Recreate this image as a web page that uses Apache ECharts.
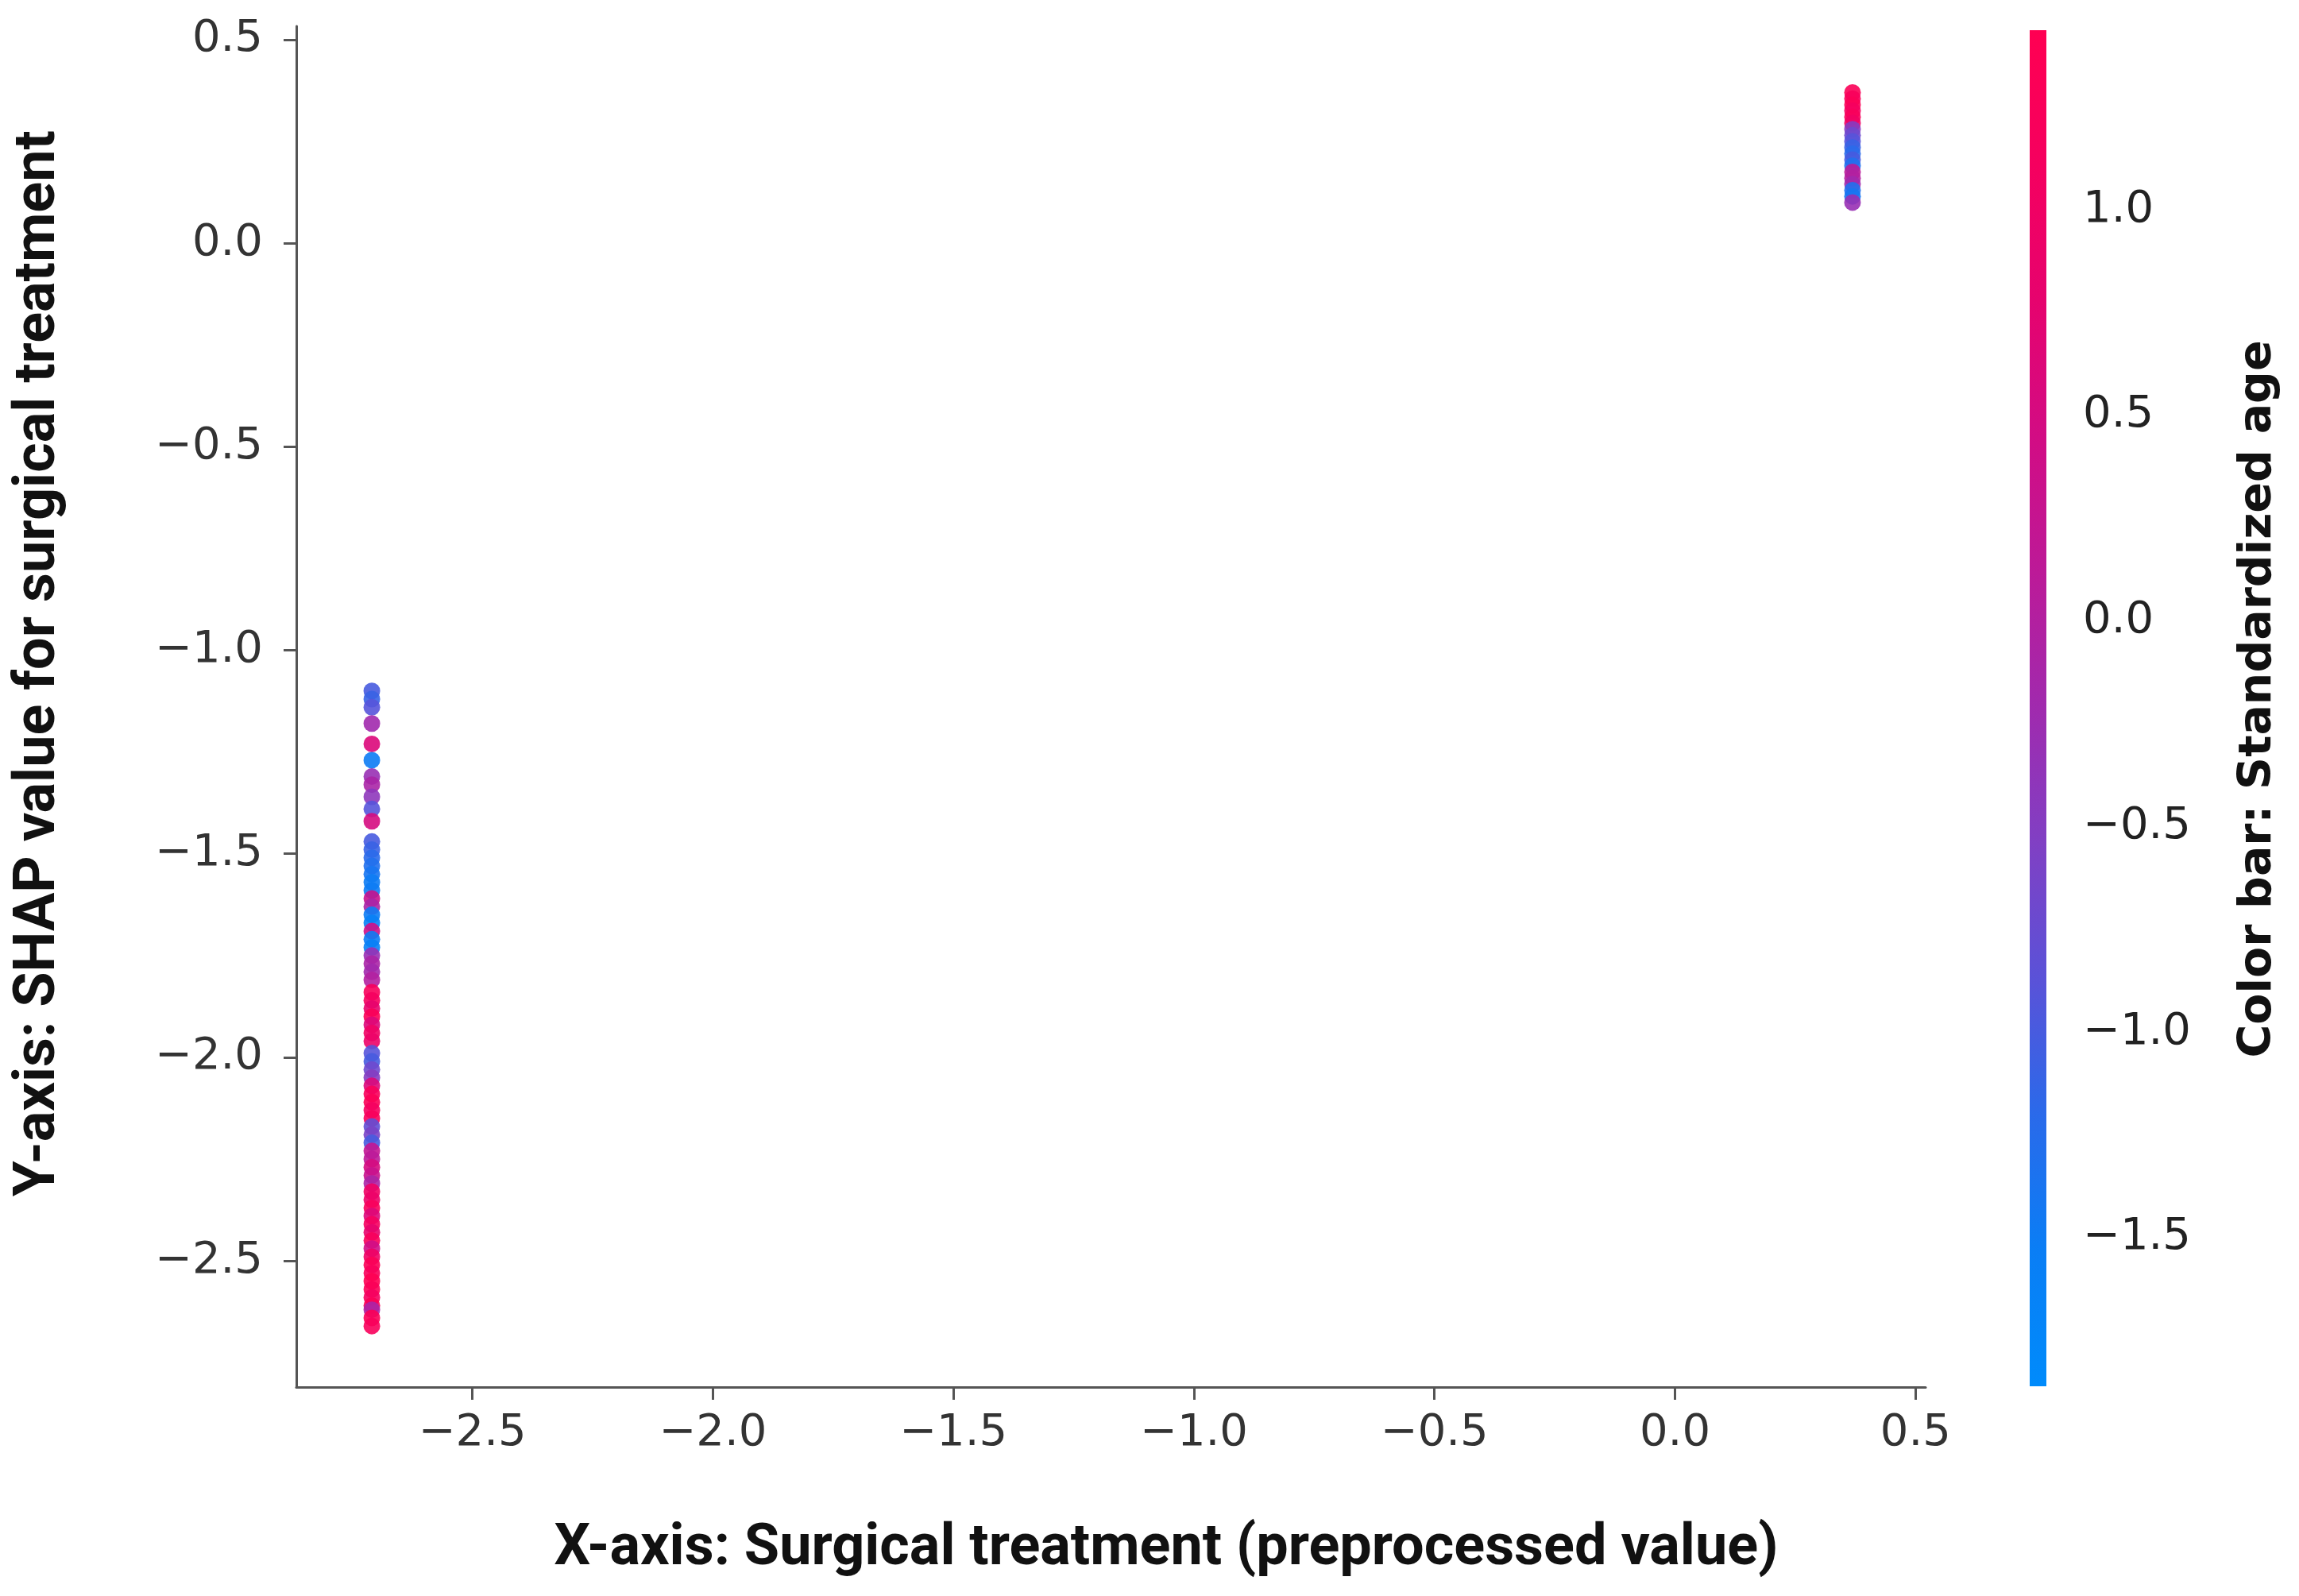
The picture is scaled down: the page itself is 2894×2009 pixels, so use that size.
<!DOCTYPE html>
<html>
<head>
<meta charset="utf-8">
<script src="https://cdn.jsdelivr.net/npm/echarts@6/dist/echarts.min.js"></script>
<style>
  html, body { margin: 0; padding: 0; background: #fff; }
  #main { width: 2894px; height: 2009px; }
</style>
</head>
<body>
<div id="main"></div>
<script>
// feature values (preprocessed surgical treatment)
const featureLow = -2.709;
const featureHigh = 0.369;

// SHAP values + standardized age at the low feature value
const lowShap = [-1.10, -1.12, -1.14, -1.18, -1.23, -1.27, -1.31, -1.33, -1.36, -1.39,
  -1.42, -1.47, -1.49, -1.51, -1.53, -1.55, -1.57, -1.59, -1.61, -1.63,
  -1.65, -1.67, -1.69, -1.71, -1.73, -1.75, -1.77, -1.79, -1.81, -1.84,
  -1.86, -1.88, -1.90, -1.92, -1.94, -1.96, -1.99, -2.01, -2.03, -2.05,
  -2.07, -2.09, -2.11, -2.13, -2.15, -2.17, -2.19, -2.21, -2.23, -2.25,
  -2.27, -2.29, -2.31, -2.33, -2.35, -2.37, -2.39, -2.41, -2.43, -2.45,
  -2.47, -2.49, -2.51, -2.53, -2.55, -2.57, -2.59, -2.61, -2.62, -2.64, -2.66];
const lowAge = [-1.0, -1.1, -0.9, -0.2, 0.6, -1.5, -0.3, -0.1, -0.4, -0.9,
  0.5, -1.0, -1.1, -1.2, -1.3, -1.4, -1.5, -1.5, 0.3, -0.1,
  -1.5, -1.6, 0.4, -1.5, -1.6, -0.3, -0.1, -0.2, 0.0, 1.2,
  1.1, 0.8, 1.3, 0.6, 1.0, 0.9, -0.9, -1.0, -0.7, -0.5,
  0.6, 1.2, 1.3, 1.1, 1.2, -0.8, -0.6, -1.0, 0.2, 0.1,
  0.5, 0.3, -0.1, 1.0, 0.9, 1.2, 0.6, 1.1, 0.8, 1.2,
  0.4, 1.0, 1.3, 1.2, 1.4, 1.3, 1.1, 1.3, -0.1, 1.3, 1.2];

// SHAP values + standardized age at the high feature value
const highShap = [0.37, 0.355, 0.34, 0.325, 0.31, 0.295, 0.28, 0.265, 0.25, 0.235,
  0.22, 0.205, 0.19, 0.175, 0.16, 0.145, 0.13, 0.115, 0.10];
const highAge = [1.3, 1.2, 1.3, 1.1, 1.2, 1.0, -0.5, -0.7, -0.9, -1.1,
  -1.2, -1.0, -1.3, 0.1, 0.0, -0.2, -1.3, -1.4, -0.3];

const xTicks = [-2.5, -2.0, -1.5, -1.0, -0.5, 0.0, 0.5];
const yTicks = [-2.5, -2.0, -1.5, -1.0, -0.5, 0.0, 0.5];
const cbTicks = [-1.5, -1.0, -0.5, 0.0, 0.5, 1.0];
const cbRange = [-1.862, 1.437];

// shap red_blue like colormap, blue -> red
const cmap = ['#008BFB', '#0A7EF5', '#2A6AEA', '#5A52D8', '#8040C4', '#A02AAE',
  '#BC1A98', '#D20C84', '#E6036E', '#F5005F', '#FF0052'];

const points = [];
lowShap.forEach((v, i) => points.push([featureLow, v, lowAge[i]]));
highShap.forEach((v, i) => points.push([featureHigh, v, highAge[i]]));

const fmt = v => v.toFixed(1).replace('-', '\u2212');
const tickFont = { color: '#333', fontSize: 56, fontFamily: 'DejaVu Sans' };

var chart = echarts.init(document.getElementById('main'));

var option = {
  backgroundColor: '#fff',
  animation: false,
  grid: [
    { left: 373, right: 470, top: 33, bottom: 263 },
    { left: 2555, width: 21, top: 38, bottom: 264 }
  ],
  xAxis: [
    {
      type: 'value', gridIndex: 0, min: -2.866, max: 0.521,
      axisLine: { onZero: false, lineStyle: { color: '#555', width: 3 } },
      axisTick: { length: 16, lineStyle: { color: '#555', width: 3 }, customValues: xTicks },
      axisLabel: Object.assign({ margin: 30, formatter: fmt, customValues: xTicks }, tickFont),
      splitLine: { show: false }
    },
    { type: 'value', gridIndex: 1, min: 0, max: 1, show: false }
  ],
  yAxis: [
    {
      type: 'value', gridIndex: 0, min: -2.81, max: 0.533,
      axisLine: { show: true, onZero: false, lineStyle: { color: '#555', width: 3 } },
      axisTick: { show: true, length: 16, lineStyle: { color: '#555', width: 3 }, customValues: yTicks },
      axisLabel: Object.assign({ margin: 42, formatter: fmt, customValues: yTicks }, tickFont),
      splitLine: { show: false }
    },
    {
      type: 'value', gridIndex: 1, position: 'right', min: cbRange[0], max: cbRange[1],
      axisLine: { show: false },
      axisTick: { show: true, length: 20, lineStyle: { color: '#222', width: 3 }, customValues: cbTicks },
      axisLabel: Object.assign({ margin: 46, formatter: fmt, customValues: cbTicks }, tickFont, { color: '#222' }),
      splitLine: { show: false }
    }
  ],
  visualMap: {
    show: false, type: 'continuous', seriesIndex: 0, dimension: 2,
    min: cbRange[0], max: cbRange[1],
    inRange: { color: cmap }
  },
  graphic: [
    {
      type: 'text', x: 1468, y: 1951,
      style: { text: 'X-axis: Surgical treatment (preprocessed value)', font: 'bold 72px Roboto',
        fill: '#111', align: 'center', verticalAlign: 'middle' }
    },
    {
      type: 'text', x: 50, y: 835, rotation: Math.PI / 2,
      style: { text: 'Y-axis: SHAP value for surgical treatment', font: 'bold 72px Roboto',
        fill: '#111', align: 'center', verticalAlign: 'middle' }
    },
    {
      type: 'text', x: 2843, y: 880, rotation: Math.PI / 2,
      style: { text: 'Color bar: Standardized age', font: 'bold 57px "DejaVu Sans"',
        fill: '#111', align: 'center', verticalAlign: 'middle' }
    }
  ],
  series: [
    {
      type: 'scatter', xAxisIndex: 0, yAxisIndex: 0,
      symbolSize: 21,
      itemStyle: { opacity: 0.9 },
      data: points
    },
    {
      // colour bar drawn through its own axis
      type: 'custom', xAxisIndex: 1, yAxisIndex: 1,
      data: [cbRange],
      renderItem: function (params, api) {
        const p0 = api.coord([0, api.value(0)]);
        const p1 = api.coord([1, api.value(1)]);
        return {
          type: 'rect',
          shape: { x: p0[0], y: p1[1], width: p1[0] - p0[0], height: p0[1] - p1[1] },
          style: {
            fill: new echarts.graphic.LinearGradient(0, 1, 0, 0,
              cmap.map((c, i) => ({ offset: i / (cmap.length - 1), color: c })))
          }
        };
      }
    }
  ]
};

chart.setOption(option);
</script>
</body>
</html>
